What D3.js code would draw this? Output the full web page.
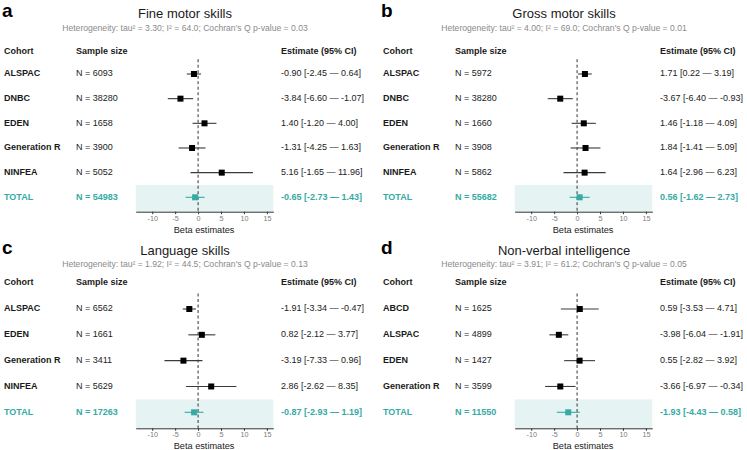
<!DOCTYPE html>
<html>
<head>
<meta charset="utf-8">
<script src="https://cdn.jsdelivr.net/npm/d3@7"></script>
<style>
  body { margin: 0; background: #fff; }
  svg { font-family: "Liberation Sans", Arial, Helvetica, sans-serif; }
</style>
</head>
<body>
<div id="chart"></div>
<script>
// Daten der vier Panels, direkt
const panelLetters = ["a", "b", "c", "d"];
const panelTitles = ["Fine motor skills", "Gross motor skills", "Language skills", "Non-verbal intelligence"];
const tau2 = [3.30, 4.00, 1.92, 3.91];
const i2 = [64.0, 69.0, 44.5, 61.2];
const qP = [0.03, 0.01, 0.13, 0.05];

const cohortsA = ["ALSPAC", "DNBC", "EDEN", "Generation R", "NINFEA"];
const sampleA = [6093, 38280, 1658, 3900, 5052];
const estA = [-0.90, -3.84, 1.40, -1.31, 5.16];
const lowA = [-2.45, -6.60, -1.20, -4.25, -1.65];
const highA = [0.64, -1.07, 4.00, 1.63, 11.96];

const cohortsB = ["ALSPAC", "DNBC", "EDEN", "Generation R", "NINFEA"];
const sampleB = [5972, 38280, 1660, 3908, 5862];
const estB = [1.71, -3.67, 1.46, 1.84, 1.64];
const lowB = [0.22, -6.40, -1.18, -1.41, -2.96];
const highB = [3.19, -0.93, 4.09, 5.09, 6.23];

const cohortsC = ["ALSPAC", "EDEN", "Generation R", "NINFEA"];
const sampleC = [6562, 1661, 3411, 5629];
const estC = [-1.91, 0.82, -3.19, 2.86];
const lowC = [-3.34, -2.12, -7.33, -2.62];
const highC = [-0.47, 3.77, 0.96, 8.35];

const cohortsD = ["ABCD", "ALSPAC", "EDEN", "Generation R"];
const sampleD = [1625, 4899, 1427, 3599];
const estD = [0.59, -3.98, 0.55, -3.66];
const lowD = [-3.53, -6.04, -2.82, -6.97];
const highD = [4.71, -1.91, 3.92, -0.34];

// TOTAL-Zeilen (a, b, c, d)
const totalN = [54983, 55682, 17263, 11550];
const totalEst = [-0.65, 0.56, -0.87, -1.93];
const totalLow = [-2.73, -1.62, -2.93, -4.43];
const totalHigh = [1.43, 2.73, 1.19, 0.58];

const tickValues = [-10, -5, 0, 5, 10, 15];
const xDomain = [-13.6, 16.4];

// Farben
const teal = "#36aaa5";
const bandFill = "#e6f3f3";
const ink = "#1a1a1a";

const width = 747;
const height = 450;

const svg = d3.select("#chart")
    .append("svg")
    .attr("width", width)
    .attr("height", height)
    .attr("viewBox", `0 0 ${width} ${height}`);

// Layout je Panel-Reihe (oben / unten)
const rowsLayout = [
    {title: 18.3, sub: 31, header: 51.7, first: 74, last: 197.3, axis: 211.7, xlab: 233},
    {title: 255.3, sub: 266.5, header: 283, first: 309, last: 412.3, axis: 428.3, xlab: 448.6}
];
const colOffsets = [0, 379];

const panels = [
    {cohorts: cohortsA, n: sampleA, est: estA, low: lowA, high: highA},
    {cohorts: cohortsB, n: sampleB, est: estB, low: lowB, high: highB},
    {cohorts: cohortsC, n: sampleC, est: estC, low: lowC, high: highC},
    {cohorts: cohortsD, n: sampleD, est: estD, low: lowD, high: highD}
];

// Bindestrich statt Unicode-Minus, wie im Original
const fmt = v => v.toFixed(2);
const ciText = (e, l, h) => `${fmt(e)} [${fmt(l)} \u2014 ${fmt(h)}]`;

panels.forEach((p, i) => {
    const L = rowsLayout[Math.floor(i / 2)];
    const ox = colOffsets[i % 2];
    const g = svg.append("g").attr("transform", `translate(${ox},0)`);

    const rows = p.cohorts.map((c, k) => ({
        name: c, n: p.n[k], est: p.est[k], low: p.low[k], high: p.high[k], total: false
    }));
    rows.push({name: "TOTAL", n: totalN[i], est: totalEst[i], low: totalLow[i], high: totalHigh[i], total: true});

    const x = d3.scaleLinear().domain(xDomain).range([135.7, 273.3]);
    const y = d3.scalePoint().domain(rows.map(d => d.name)).range([L.first, L.last]);
    const step = y.step();

    // Buchstabe, Titel, Heterogenität
    g.append("text").attr("x", 2).attr("y", L.title - 1)
        .attr("font-size", 19).attr("font-weight", "bold").attr("fill", "#000")
        .text(panelLetters[i]);
    g.append("text").attr("x", 185).attr("y", L.title)
        .attr("text-anchor", "middle").attr("font-size", 13).attr("fill", ink)
        .text(panelTitles[i]);
    g.append("text").attr("x", 185).attr("y", L.sub)
        .attr("text-anchor", "middle").attr("font-size", 8.6).attr("fill", "#8a8a8a")
        .text(`Heterogeneity: tau\u00b2 = ${tau2[i].toFixed(2)}; I\u00b2 = ${i2[i].toFixed(1)}; Cochran's Q p-value = ${qP[i].toFixed(2)}`);

    // Kopfzeile
    const header = [["Cohort", 4], ["Sample size", 76], ["Estimate (95% CI)", 281]];
    g.selectAll("text.header")
        .data(header)
        .join("text")
        .attr("class", "header")
        .attr("x", d => d[1]).attr("y", L.header)
        .attr("dominant-baseline", "middle")
        .attr("font-size", 9).attr("font-weight", "bold").attr("fill", ink)
        .text(d => d[0]);

    // TOTAL-Hintergrund
    const lastRow = rows[rows.length - 1];
    g.append("rect")
        .attr("x", x.range()[0]).attr("width", x.range()[1] - x.range()[0])
        .attr("y", y(lastRow.name) - step / 2)
        .attr("height", L.axis - (y(lastRow.name) - step / 2))
        .attr("fill", bandFill);

    // Nulllinie
    g.append("line")
        .attr("x1", x(0)).attr("x2", x(0))
        .attr("y1", L.first - step * 0.6).attr("y2", L.axis)
        .attr("stroke", "#333").attr("stroke-width", 1)
        .attr("stroke-dasharray", "3,2.5");

    // Achse
    const axis = g.append("g")
        .attr("transform", `translate(0,${L.axis})`)
        .call(d3.axisBottom(x).tickValues(tickValues).tickFormat(d => String(d))
            .tickSize(2.5).tickPadding(1.5).tickSizeOuter(0));
    axis.select(".domain").attr("stroke", "#333");
    axis.selectAll(".tick line").attr("stroke", "#333");
    axis.selectAll(".tick text").attr("fill", "#7a7a7a").attr("font-size", 7.2)
        .attr("font-family", "Liberation Sans, Arial, sans-serif");
    g.append("text").attr("x", x(0) + 6).attr("y", L.xlab)
        .attr("text-anchor", "middle").attr("font-size", 9.2).attr("fill", "#222")
        .text("Beta estimates");

    // Textspalten
    const rowG = g.selectAll("g.row")
        .data(rows)
        .join("g")
        .attr("class", "row")
        .attr("transform", d => `translate(0,${y(d.name)})`);

    rowG.append("text").attr("x", 4).attr("dominant-baseline", "middle")
        .attr("font-size", 9).attr("font-weight", "bold")
        .attr("fill", d => d.total ? teal : ink)
        .text(d => d.name);
    rowG.append("text").attr("x", 76).attr("dominant-baseline", "middle")
        .attr("font-size", 9).attr("font-weight", d => d.total ? "bold" : "normal")
        .attr("fill", d => d.total ? teal : "#222")
        .text(d => `N = ${d.n}`);
    rowG.append("text").attr("x", 281).attr("dominant-baseline", "middle")
        .attr("font-size", 9).attr("font-weight", d => d.total ? "bold" : "normal")
        .attr("fill", d => d.total ? teal : "#222")
        .text(d => ciText(d.est, d.low, d.high));

    // Konfidenzintervalle und Punktschätzer
    rowG.append("line")
        .attr("x1", d => x(d.low)).attr("x2", d => x(d.high))
        .attr("stroke", d => d.total ? teal : "#3a3a3a").attr("stroke-width", 1.1);
    const s = 6;
    rowG.append("rect")
        .attr("x", d => x(d.est) - s / 2).attr("y", -s / 2)
        .attr("width", s).attr("height", s)
        .attr("fill", d => d.total ? teal : "#000");
});
</script>
</body>
</html>
